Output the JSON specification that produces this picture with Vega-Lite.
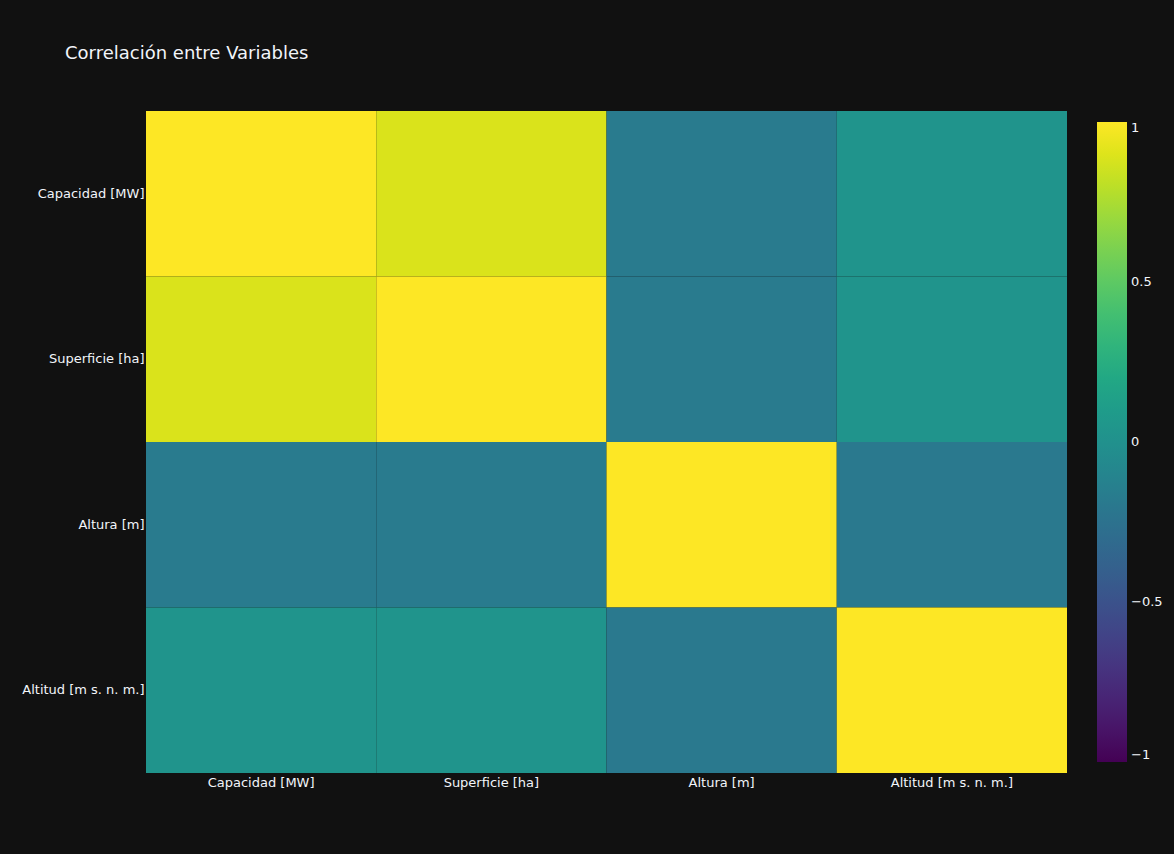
{
  "$schema": "https://vega.github.io/schema/vega-lite/v6.json",
  "autosize": {"type": "none"},
  "padding": {"left": 146, "top": 111, "right": 107, "bottom": 81},
  "width": 921,
  "height": 662,
  "background": "#111111",
  "title": {
    "text": "Correlación entre Variables",
    "anchor": "start",
    "frame": "group",
    "dx": -81,
    "offset": 48,
    "font": "DejaVu Sans",
    "fontSize": 18,
    "fontWeight": "normal",
    "color": "#f2f5fa"
  },
  "data": {
    "values": [
      {"x": "Capacidad [MW]", "y": "Capacidad [MW]", "r": 1.0},
      {"x": "Superficie [ha]", "y": "Capacidad [MW]", "r": 0.89},
      {"x": "Altura [m]", "y": "Capacidad [MW]", "r": -0.18},
      {"x": "Altitud [m s. n. m.]", "y": "Capacidad [MW]", "r": 0.03},
      {"x": "Capacidad [MW]", "y": "Superficie [ha]", "r": 0.89},
      {"x": "Superficie [ha]", "y": "Superficie [ha]", "r": 1.0},
      {"x": "Altura [m]", "y": "Superficie [ha]", "r": -0.18},
      {"x": "Altitud [m s. n. m.]", "y": "Superficie [ha]", "r": 0.03},
      {"x": "Capacidad [MW]", "y": "Altura [m]", "r": -0.18},
      {"x": "Superficie [ha]", "y": "Altura [m]", "r": -0.18},
      {"x": "Altura [m]", "y": "Altura [m]", "r": 1.0},
      {"x": "Altitud [m s. n. m.]", "y": "Altura [m]", "r": -0.19},
      {"x": "Capacidad [MW]", "y": "Altitud [m s. n. m.]", "r": 0.03},
      {"x": "Superficie [ha]", "y": "Altitud [m s. n. m.]", "r": 0.03},
      {"x": "Altura [m]", "y": "Altitud [m s. n. m.]", "r": -0.19},
      {"x": "Altitud [m s. n. m.]", "y": "Altitud [m s. n. m.]", "r": 1.0}
    ]
  },
  "mark": {"type": "rect"},
  "encoding": {
    "x": {
      "field": "x",
      "type": "nominal",
      "sort": null,
      "scale": {"paddingInner": 0, "paddingOuter": 0},
      "axis": {"title": null, "labelAngle": 0, "ticks": false, "domain": false, "grid": false, "labelPadding": 3}
    },
    "y": {
      "field": "y",
      "type": "nominal",
      "sort": null,
      "scale": {"paddingInner": 0, "paddingOuter": 0},
      "axis": {"title": null, "ticks": false, "domain": false, "grid": false, "labelPadding": 2}
    },
    "color": {
      "field": "r",
      "type": "quantitative",
      "scale": {"scheme": "viridis", "domain": [-1, 1]},
      "legend": {
        "title": null,
        "orient": "none",
        "legendX": 951,
        "legendY": 11,
        "direction": "vertical",
        "gradientLength": 640,
        "gradientThickness": 30,
        "gradientStrokeWidth": 0,
        "values": [-1, -0.5, 0, 0.5, 1],
        "format": "~g",
        "labelOffset": 4,
        "labelBaseline": "middle",
        "labelOverlap": false
      }
    }
  },
  "config": {
    "view": {"stroke": null},
    "axis": {"labelFont": "DejaVu Sans", "labelFontSize": 13, "labelColor": "#f2f5fa"},
    "legend": {"labelFont": "DejaVu Sans", "labelFontSize": 13, "labelColor": "#f2f5fa"}
  }
}
